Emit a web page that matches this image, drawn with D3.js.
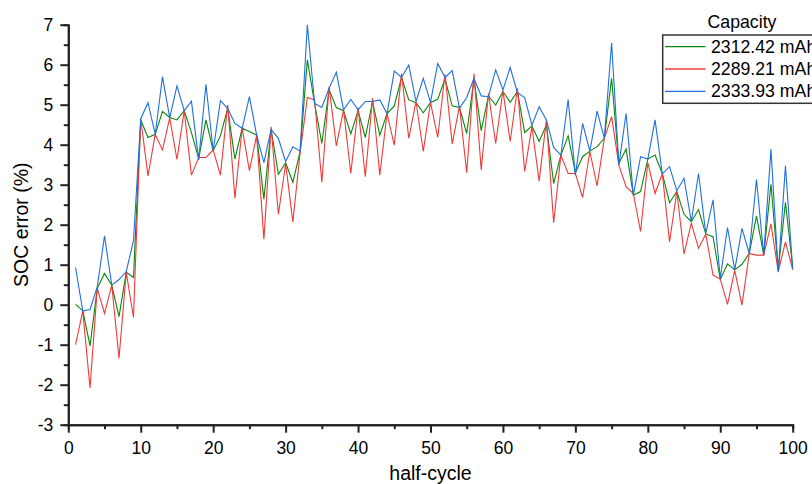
<!DOCTYPE html>
<html>
<head>
<meta charset="utf-8">
<script src="https://cdn.jsdelivr.net/npm/d3@7"></script>
<style>
  html, body { margin: 0; padding: 0; background: #fff; }
  svg { display: block; }
  text { font-family: Arial, "Liberation Sans", sans-serif; fill: #000; }
</style>
</head>
<body>
<svg id="chart" width="812" height="484"></svg>
<script>
// ---- data ----
const seriesNames = ["2312.42 mAh", "2289.21 mAh", "2333.93 mAh"];
const seriesColors = ["#0a870a", "#f03a3a", "#1f6fdf"];
const legendTitle = "Capacity";
const xTicks = [0, 10, 20, 30, 40, 50, 60, 70, 80, 90, 100];
const yTicks = [-3, -2, -1, 0, 1, 2, 3, 4, 5, 6, 7];

const greenValues = [
  0.01, -0.15, -1.03, 0.41, 0.78, 0.49, -0.30, 0.81, 0.68, 4.62,
  4.18, 4.26, 4.83, 4.68, 4.62, 4.85, 4.30, 3.65, 4.62, 3.85,
  4.22, 4.91, 3.64, 4.41, 4.33, 4.24, 2.64, 4.38, 3.26, 3.55,
  3.06, 3.83, 6.12, 5.03, 4.03, 5.37, 4.93, 4.85, 4.27, 4.85,
  4.18, 5.08, 4.24, 4.78, 4.97, 5.68, 5.12, 5.05, 4.80, 5.05,
  5.14, 5.64, 4.97, 4.93, 4.28, 5.64, 4.35, 5.22, 4.99, 5.33,
  5.06, 5.33, 4.30, 4.47, 4.08, 4.49, 3.03, 3.74, 4.22, 3.30,
  3.70, 3.84, 3.95, 4.16, 5.66, 3.53, 3.89, 2.74, 2.83, 3.64,
  3.74, 3.28, 2.55, 2.83, 2.26, 2.08, 2.38, 1.77, 1.70, 0.63,
  1.02, 0.87, 1.01, 1.28, 2.22, 1.24, 3.01, 0.87, 2.56, 0.93
];
const redValues = [
  -1.00, -0.16, -2.08, 0.41, -0.22, 0.49, -1.34, 0.81, -0.32, 4.65,
  3.22, 4.26, 3.87, 4.67, 3.63, 4.85, 3.24, 3.68, 3.68, 3.87,
  3.24, 5.00, 2.66, 4.41, 3.35, 4.24, 1.64, 4.45, 2.26, 3.53,
  2.07, 3.80, 5.18, 5.12, 3.06, 5.45, 3.97, 4.87, 3.28, 4.93,
  3.20, 5.16, 3.24, 4.78, 3.99, 5.78, 4.16, 5.08, 3.83, 5.05,
  4.18, 5.76, 4.02, 4.97, 3.30, 5.78, 3.37, 5.28, 4.03, 5.35,
  4.08, 5.41, 3.33, 4.45, 3.09, 4.62, 2.05, 3.74, 3.28, 3.28,
  2.68, 3.83, 2.97, 4.16, 4.70, 3.49, 2.95, 2.78, 1.83, 3.55,
  2.78, 3.28, 1.57, 2.83, 1.27, 2.04, 1.41, 1.76, 0.74, 0.64,
  0.01, 0.86, -0.01, 1.28, 1.24, 1.24, 2.02, 0.83, 1.57, 0.88
];
const blueValues = [
  0.93, -0.16, -0.12, 0.45, 1.72, 0.49, 0.63, 0.83, 1.60, 4.65,
  5.05, 4.26, 5.70, 4.67, 5.47, 4.85, 5.09, 3.62, 5.51, 3.85,
  5.10, 4.91, 4.53, 4.41, 5.20, 4.24, 3.55, 4.38, 4.16, 3.58,
  3.95, 3.84, 7.00, 5.03, 4.93, 5.41, 5.81, 4.87, 5.13, 4.87,
  5.08, 5.08, 5.12, 4.78, 5.84, 5.68, 5.99, 5.08, 5.66, 5.06,
  6.03, 5.68, 5.85, 4.91, 5.18, 5.66, 5.22, 5.20, 5.87, 5.37,
  5.93, 5.30, 5.18, 4.49, 4.95, 4.62, 3.93, 3.74, 5.13, 3.24,
  4.53, 3.84, 4.84, 4.16, 6.55, 3.49, 4.78, 2.74, 3.70, 3.64,
  4.62, 3.27, 3.45, 2.85, 3.16, 2.08, 3.28, 1.78, 2.62, 0.66,
  1.93, 0.87, 1.91, 1.28, 3.13, 1.24, 3.89, 0.81, 3.47, 0.88
];
const allSeries = [greenValues, redValues, blueValues];

// ---- layout ----
const svg = d3.select("#chart");
const x = d3.scaleLinear().domain([0, 100]).range([68.3, 792.7]);
const y = d3.scaleLinear().domain([-3, 7]).range([424.7, 24.7]);
const tickFont = "17.5px";

// minor ticks
const yMinor = d3.range(-2.5, 7, 1);
const xMinor = d3.range(5, 100, 10);

const yAxisMinor = svg.append("g").attr("transform", `translate(${x(0)},0)`)
  .call(d3.axisLeft(y).tickValues(yMinor).tickSize(4.5).tickFormat(""));
const xAxisMinor = svg.append("g").attr("transform", `translate(0,${y(-3)})`)
  .call(d3.axisBottom(x).tickValues(xMinor).tickSize(4.5).tickFormat(""));

const yAxis = svg.append("g").attr("transform", `translate(${x(0)},0)`)
  .call(d3.axisLeft(y).tickValues(yTicks).tickSize(8).tickPadding(7).tickSizeOuter(0).tickFormat(d3.format("d")));
const xAxis = svg.append("g").attr("transform", `translate(0,${y(-3)})`)
  .call(d3.axisBottom(x).tickValues(xTicks).tickSize(8).tickPadding(9).tickSizeOuter(0).tickFormat(d3.format("d")));

[yAxis, xAxis, yAxisMinor, xAxisMinor].forEach(g => {
  g.selectAll("path.domain").attr("stroke", "#222").attr("stroke-width", 2);
  g.selectAll(".tick line").attr("stroke", "#222").attr("stroke-width", 2);
  g.selectAll(".tick text").style("font-size", tickFont).attr("fill", "#000")
    .style("font-family", "Arial, 'Liberation Sans', sans-serif");
});
yAxis.selectAll(".tick text").text(d => d < 0 ? "-" + Math.abs(d) : d);

// axis titles
svg.append("text")
  .attr("transform", `translate(27.6,${(y(-3) + y(7)) / 2}) rotate(-90)`)
  .attr("text-anchor", "middle")
  .style("font-size", "19.5px")
  .text("SOC error (%)");
svg.append("text")
  .attr("x", (x(0) + x(100)) / 2)
  .attr("y", 480)
  .attr("text-anchor", "middle")
  .style("font-size", "19.5px")
  .text("half-cycle");

// lines
const line = d3.line().x((d, i) => x(i + 1)).y(d => y(d));
allSeries.forEach((vals, k) => {
  svg.append("path")
    .datum(vals)
    .attr("fill", "none")
    .attr("stroke", seriesColors[k])
    .attr("stroke-width", 1.1)
    .attr("stroke-linejoin", "miter")
    .attr("d", line);
});

// legend
const lg = svg.append("g");
lg.append("text")
  .attr("x", 742).attr("y", 28.3)
  .attr("text-anchor", "middle")
  .style("font-size", "17.7px")
  .text(legendTitle);
lg.append("rect")
  .attr("x", 662.7).attr("y", 35)
  .attr("width", 170).attr("height", 68.3)
  .attr("fill", "#fff")
  .attr("stroke", "#333").attr("stroke-width", 1.5);
seriesNames.forEach((name, k) => {
  const cy = 46.7 + k * 22.3;
  lg.append("line")
    .attr("x1", 665).attr("x2", 705.5)
    .attr("y1", cy).attr("y2", cy)
    .attr("stroke", seriesColors[k]).attr("stroke-width", 1.3);
  lg.append("text")
    .attr("x", 711).attr("y", cy + 6.1)
    .style("font-size", "17.7px")
    .text(name);
});
</script>
</body>
</html>
